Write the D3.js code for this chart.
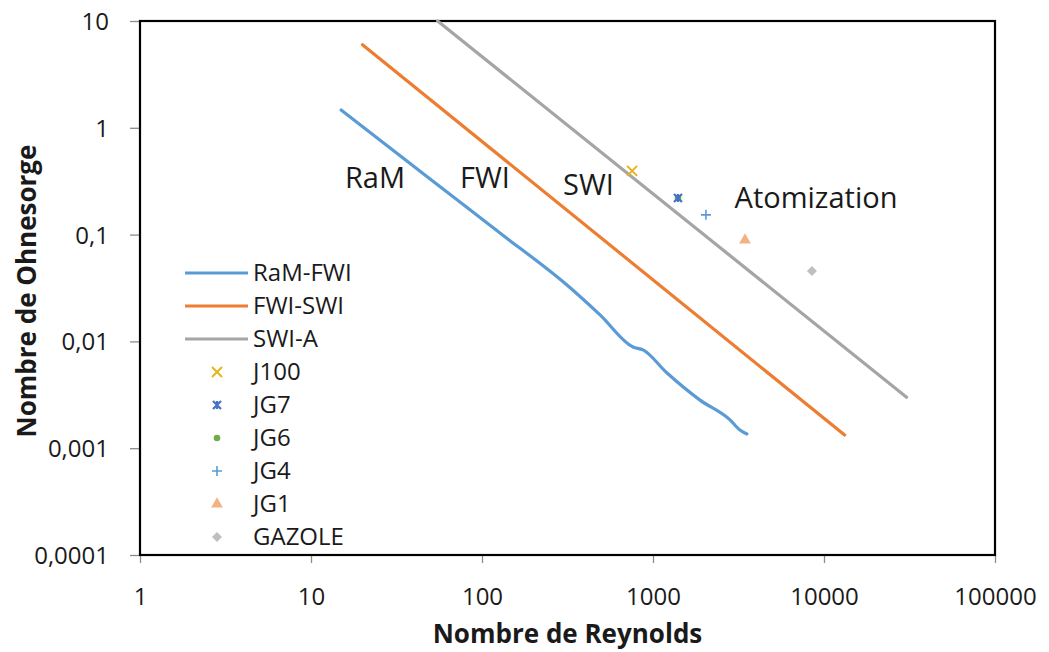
<!DOCTYPE html>
<html>
<head>
<meta charset="utf-8">
<script src="https://cdn.jsdelivr.net/npm/d3@7"></script>
<style>
  html, body { margin: 0; padding: 0; background: #fff; }
  svg { display: block; font-family: "Open Sans", sans-serif; }
</style>
</head>
<body>
<svg id="chart" width="1049" height="652"></svg>
<script>
// ---- Data ----
const xTicks = [1, 10, 100, 1000, 10000, 100000];
const xTickLabels = ["1", "10", "100", "1000", "10000", "100000"];
const yTicks = [0.0001, 0.001, 0.01, 0.1, 1, 10];
const yTickLabels = ["0,0001", "0,001", "0,01", "0,1", "1", "10"];

const ramFwiRe = [15, 51.7, 127.4, 314, 490, 764, 874, 1208, 1884, 2820, 3224, 3540];
const ramFwiOh = [1.47, 0.316, 0.1035, 0.0337, 0.0177, 0.00887, 0.00832, 0.00506, 0.00282, 0.00184, 0.00148, 0.00136];
const fwiSwiRe = [20, 13200];
const fwiSwiOh = [6, 0.00133];
const swiARe = [55, 30400];
const swiAOh = [10, 0.0030];

const pointNames = ["J100", "JG7", "JG6", "JG4", "JG1", "GAZOLE"];
const pointRe = [755, 1400, 1400, 2040, 3450, 8500];
const pointOh = [0.395, 0.22, 0.22, 0.153, 0.089, 0.0456];

const regionLabels = ["RaM", "FWI", "SWI", "Atomization"];
const regionRe = [15.8, 74.3, 298, 3000];
const regionOh = [0.273, 0.273, 0.235, 0.1775];

const lineNames = ["RaM-FWI", "FWI-SWI", "SWI-A"];
const lineColors = ["#5B9BD5", "#ED7D31", "#A5A5A5"];
const pointColors = ["#E8B41A", "#4472C4", "#70AD47", "#5B9BD5", "#F4B183", "#BFBFBF"];
const pointShapes = ["x", "asterisk", "circle", "plus", "triangle", "diamond"];

// ---- Layout ----
const svg = d3.select("#chart");
const L = 140, R = 995, T = 21, B = 555;

const x = d3.scaleLog().domain([1, 100000]).range([L, R]);
const y = d3.scaleLog().domain([0.0001, 10]).range([B, T]);

// Axes ticks
const xAxis = d3.axisBottom(x).tickValues(xTicks).tickFormat((d, i) => xTickLabels[i]).tickSize(8).tickSizeOuter(0);
const yAxis = d3.axisLeft(y).tickValues(yTicks).tickFormat((d, i) => yTickLabels[i]).tickSize(10).tickSizeOuter(0);

const gx = svg.append("g").attr("transform", `translate(0,${B})`).call(xAxis);
gx.select(".domain").remove();
gx.selectAll(".tick line").attr("stroke", "#8c8c8c").attr("stroke-width", 1.3);
gx.selectAll(".tick text").attr("fill", "#1a1a1a").attr("font-size", 24).attr("font-family", "Open Sans").attr("dy", "0").attr("y", 50);

const gy = svg.append("g").attr("transform", `translate(${L},0)`).call(yAxis);
gy.select(".domain").remove();
gy.selectAll(".tick line").attr("stroke", "#8c8c8c").attr("stroke-width", 1.3);
gy.selectAll(".tick text").attr("fill", "#1a1a1a").attr("font-size", 24).attr("font-family", "Open Sans").attr("x", -31).attr("dy", "0.35em");

// Plot border
svg.append("rect").attr("x", L).attr("y", T).attr("width", R - L).attr("height", B - T)
  .attr("fill", "none").attr("stroke", "#000").attr("stroke-width", 2.2);

// Lines
const lineGen = d3.line().x(d => x(d[0])).y(d => y(d[1])).curve(d3.curveMonotoneX);
const lineSeries = [
  d3.zip(ramFwiRe, ramFwiOh),
  d3.zip(fwiSwiRe, fwiSwiOh),
  d3.zip(swiARe, swiAOh)
];
lineSeries.forEach((s, i) => {
  svg.append("path").datum(s).attr("d", lineGen)
    .attr("fill", "none").attr("stroke", lineColors[i]).attr("stroke-width", 3.2)
    .attr("stroke-linecap", "round").attr("stroke-linejoin", "round");
});

// Marker drawing
function drawMarker(g, shape, cx, cy, color) {
  const s = 5;
  if (shape === "x") {
    g.append("path").attr("d", `M${cx-s},${cy-s}L${cx+s},${cy+s}M${cx-s},${cy+s}L${cx+s},${cy-s}`)
      .attr("stroke", color).attr("stroke-width", 2).attr("fill", "none");
  } else if (shape === "asterisk") {
    g.append("path").attr("d", `M${cx-4},${cy-4}L${cx+4},${cy+4}M${cx-4},${cy+4}L${cx+4},${cy-4}M${cx},${cy-4}L${cx},${cy+4}`)
      .attr("stroke", color).attr("stroke-width", 2.2).attr("fill", "none");
  } else if (shape === "plus") {
    g.append("path").attr("d", `M${cx-5},${cy}L${cx+5},${cy}M${cx},${cy-5}L${cx},${cy+5}`)
      .attr("stroke", color).attr("stroke-width", 1.6).attr("fill", "none");
  } else if (shape === "circle") {
    g.append("circle").attr("cx", cx).attr("cy", cy).attr("r", 3.3).attr("fill", color);
  } else if (shape === "triangle") {
    g.append("path").attr("d", d3.symbol().type(d3.symbolTriangle).size(60)())
      .attr("transform", `translate(${cx},${cy})`).attr("fill", color);
  } else if (shape === "diamond") {
    g.append("path").attr("d", `M${cx},${cy-5}L${cx+5},${cy}L${cx},${cy+5}L${cx-5},${cy}Z`)
      .attr("fill", color);
  }
}

// Points
const gp = svg.append("g");
[2, 0, 1, 3, 4, 5].forEach(i => {
  drawMarker(gp, pointShapes[i], x(pointRe[i]), y(pointOh[i]), pointColors[i]);
});

// Region labels
svg.append("g").selectAll("text").data(regionLabels).join("text")
  .attr("x", (d, i) => x(regionRe[i]))
  .attr("y", (d, i) => y(regionOh[i]))
  .attr("font-size", 29).attr("fill", "#1a1a1a")
  .text(d => d);

// Legend
const lg = svg.append("g");
const legRow0 = 273, legStep = 33;
lineNames.forEach((n, i) => {
  const yy = legRow0 + i * legStep;
  lg.append("line").attr("x1", 185).attr("x2", 248).attr("y1", yy).attr("y2", yy)
    .attr("stroke", lineColors[i]).attr("stroke-width", 3.2);
  lg.append("text").attr("x", 253).attr("y", yy).attr("dy", "0.35em")
    .attr("font-size", 24).attr("fill", "#1a1a1a").text(n);
});
pointNames.forEach((n, i) => {
  const yy = legRow0 + (i + 3) * legStep;
  drawMarker(lg, pointShapes[i], 217, yy, pointColors[i]);
  lg.append("text").attr("x", 253).attr("y", yy).attr("dy", "0.35em")
    .attr("font-size", 24).attr("fill", "#1a1a1a").text(n);
});

// Axis titles
svg.append("text").attr("x", (L + R) / 2).attr("y", 643).attr("text-anchor", "middle")
  .attr("font-size", 26).attr("font-weight", "bold").attr("fill", "#1a1a1a")
  .text("Nombre de Reynolds");
svg.append("text").attr("transform", `translate(36,291) rotate(-90)`)
  .attr("text-anchor", "middle")
  .attr("font-size", 26).attr("font-weight", "bold").attr("fill", "#1a1a1a")
  .text("Nombre de Ohnesorge");
</script>
</body>
</html>
